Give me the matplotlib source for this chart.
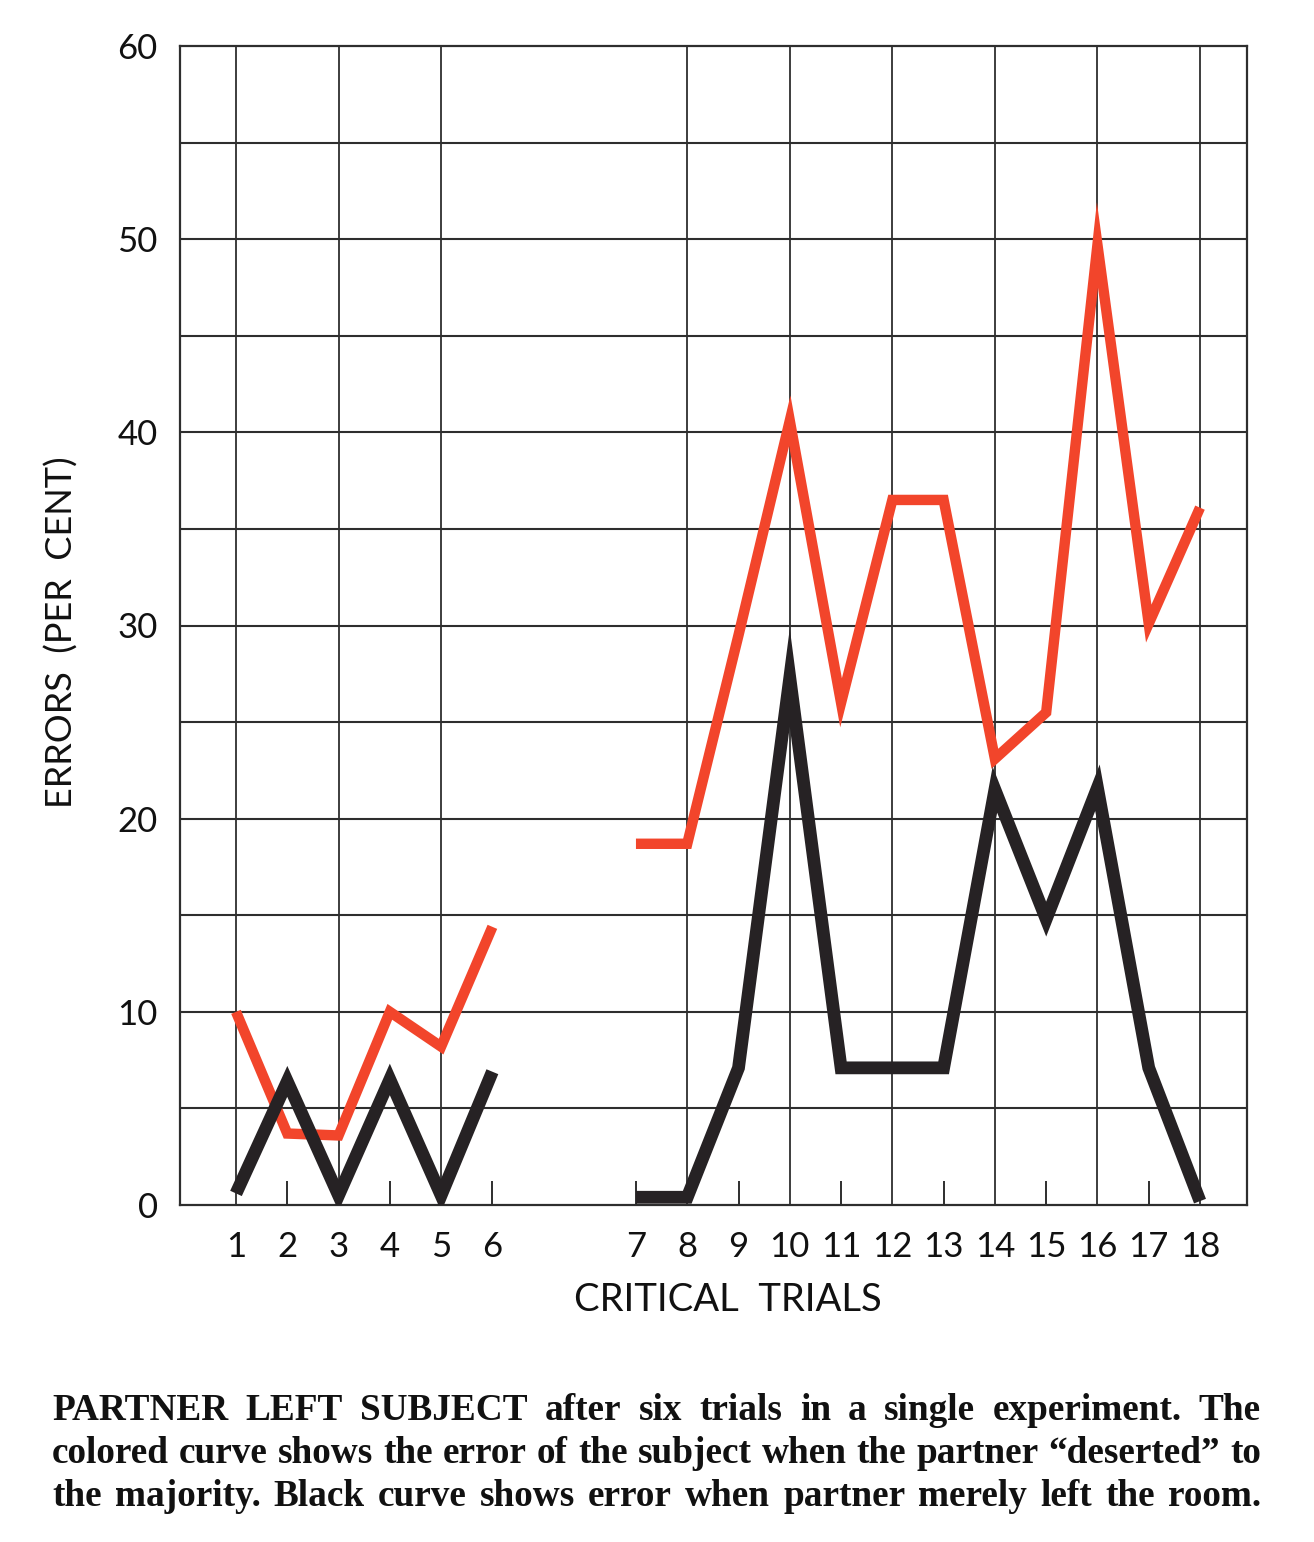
#!/usr/bin/env python3
"""Partner-left-subject chart: errors (per cent) over 18 critical trials."""

import matplotlib
matplotlib.use("Agg")
import matplotlib.pyplot as plt
import numpy as np

# ---- data ----
trials = list(range(1, 19))
trial_labels = [str(t) for t in trials]
deserted_errors = [10.0, 3.7, 3.6, 10.0, 8.2, 14.4,
                   18.7, 18.7, 29.5, 40.6, 26.0, 36.5, 36.5, 23.1, 25.5, 49.7, 30.1, 36.1]
left_room_errors = [0.6, 6.4, 0.5, 6.5, 0.5, 6.9,
                    0.4, 0.4, 7.1, 27.3, 7.1, 7.1, 7.1, 21.5, 14.8, 21.6, 7.1, 0.2]
y_ticks = [0, 10, 20, 30, 40, 50, 60]
grid_trials = [1, 3, 5, 8, 10, 12, 14, 16, 18]
tick_mark_trials = [2, 4, 6, 7, 9, 11, 13, 15, 17]

caption_lines = [
    [(w, "heavy") for w in "PARTNER LEFT SUBJECT".split()]
    + [(w, "bold") for w in "after six trials in a single experiment. The".split()],
    [(w, "bold") for w in "colored curve shows the error of the subject when the partner \u201cdeserted\u201d to".split()],
    [(w, "bold") for w in "the majority. Black curve shows error when partner merely left the room.".split()],
]

RED = "#F2452B"
BLACK = "#262224"
GRID = "#2E2E2E"
W, H = 1314, 1542
GAP = 1.8  # break in the axis between trial 6 and trial 7


def xpos(t):
    return t if t <= 6 else t + GAP


def draw_caption(fig):
    fig.canvas.draw()
    renderer = fig.canvas.get_renderer()
    left, right = 52, 1261
    baselines = [1420, 1463, 1506]

    # pick a size that makes the tightest line fit naturally
    probe = fig.text(0, 0, " ".join(w for w, _ in caption_lines[1]), family="Liberation Serif",
                     weight="bold", fontsize=24)
    natural = probe.get_window_extent(renderer).width
    probe.remove()
    size = min(27, 24 * (right - left - 8) / natural)

    for words, base in zip(caption_lines, baselines):
        texts = []
        for w, wt in words:
            t = fig.text(0, 1 - base / H, w, family="Liberation Serif", weight=wt,
                         fontsize=size, va="baseline", ha="left", color="#111111")
            texts.append(t)
        widths = [t.get_window_extent(renderer).width for t in texts]
        gap = (right - left - sum(widths)) / (len(texts) - 1)
        x = left
        for t, wd in zip(texts, widths):
            t.set_x(x / W)
            x += wd + gap


def main():
    plt.rcParams["font.family"] = ["Lato", "DejaVu Sans"]
    fig = plt.figure(figsize=(W / 100, H / 100), dpi=100)
    ax = fig.add_axes([180 / W, 1 - 1205 / H, (1247 - 180) / W, (1205 - 46) / H])

    # x mapping: trial 1 at px 236, trial 18 at px 1200
    scale = (1200 - 236) / (xpos(18) - 1)
    ax.set_xlim(1 - (236 - 180) / scale, xpos(18) + (1247 - 1200) / scale)
    ax.set_ylim(0, 60)

    for gy in np.arange(5, 60, 5):
        ax.axhline(gy, color=GRID, lw=1.5, zorder=1)
    for gt in grid_trials:
        ax.axvline(xpos(gt), color=GRID, lw=1.3, zorder=1)

    xs = [xpos(t) for t in trials]
    for seg in (slice(0, 6), slice(6, 18)):
        ax.plot(xs[seg], deserted_errors[seg], color=RED, lw=7.5,
                solid_joinstyle="miter", solid_capstyle="butt", zorder=3)
        ax.plot(xs[seg], left_room_errors[seg], color=BLACK, lw=9.2,
                solid_joinstyle="miter", solid_capstyle="butt", zorder=4)

    for s in ax.spines.values():
        s.set_color(GRID)
        s.set_linewidth(1.6)

    ax.xaxis.remove_overlapping_locs = False
    ax.set_xticks(xs)
    ax.set_xticklabels(trial_labels)
    ax.set_xticks([xpos(t) for t in tick_mark_trials], minor=True)
    ax.tick_params(axis="x", which="major", length=0, pad=19, labelsize=25, colors="#111111")
    ax.tick_params(axis="x", which="minor", direction="in", length=17, width=1.4, color=GRID)
    ax.set_yticks(y_ticks)
    ax.tick_params(axis="y", length=0, pad=16, labelsize=25, colors="#111111")

    ax.set_ylabel("ERRORS  (PER  CENT)", fontsize=26, color="#111111")
    ax.yaxis.set_label_coords((79 - 180) / (1247 - 180), (1205 - 632) / (1205 - 46))
    ax.set_xlabel("CRITICAL  TRIALS", fontsize=27.5, color="#111111", va="center")
    ax.xaxis.set_label_coords((728 - 180) / (1247 - 180), -(1300 - 1205) / (1205 - 46))

    draw_caption(fig)
    fig.savefig("out.png", dpi=100, facecolor="white")


if __name__ == "__main__":
    main()
